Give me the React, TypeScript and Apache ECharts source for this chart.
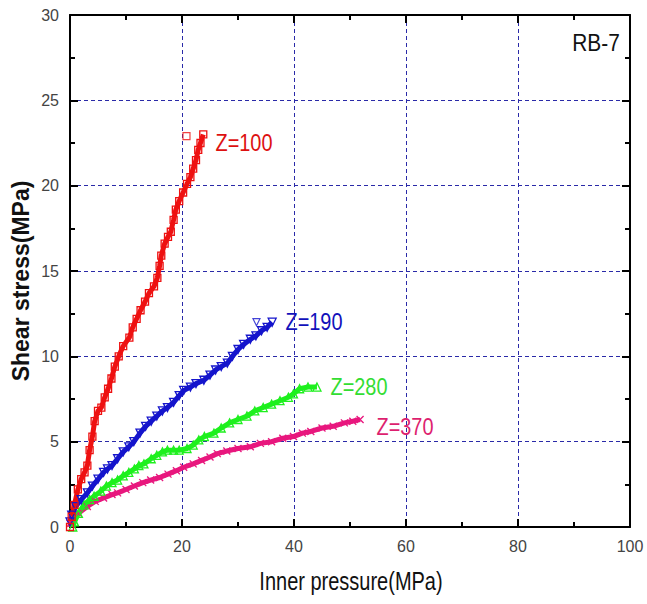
import React, { useEffect, useRef } from "react";
import * as echarts from "echarts";

// Inner pressure (MPa), Shear stress (MPa)
const z100X = [0, 0.3, 0.8, 1.4, 2.0, 2.6, 3.1, 3.5, 4.0, 4.4, 5.0, 5.6, 6.2, 6.8, 7.4, 8.0, 8.7, 9.5, 10.6, 11.2, 11.9, 12.6, 13.4, 14.1, 15.0, 15.6, 16.0, 16.3, 16.9, 17.5, 18.0, 18.5, 18.9, 19.5, 20.2, 20.9, 21.5, 22.0, 22.5, 22.9, 23.3, 23.8];
const z100Y = [0, 0.6, 1.3, 2.2, 2.8, 3.2, 3.6, 4.5, 5.3, 6.2, 6.8, 7.0, 7.6, 8.1, 8.7, 9.4, 10.0, 10.6, 11.1, 11.7, 12.2, 12.7, 13.2, 13.7, 14.1, 14.6, 15.3, 15.9, 16.6, 17.0, 17.3, 18.0, 18.6, 19.1, 19.6, 20.1, 20.5, 21.0, 21.5, 22.1, 22.5, 23.0];
const z100OutX = [20.8];
const z100OutY = [22.9];

const z190X = [0, 0.3, 1.0, 2.0, 3.1, 4.0, 5.0, 6.0, 6.7, 7.5, 8.5, 9.5, 10.5, 11.4, 12.5, 13.5, 14.5, 15.5, 16.5, 17.4, 18.5, 19.5, 20.3, 21.5, 22.5, 23.9, 25.0, 26.0, 27.0, 28.1, 29.0, 30.0, 31.0, 32.2, 33.2, 34.2, 35.2, 36.1];
const z190Y = [0.3, 0.7, 1.2, 1.6, 2.0, 2.4, 2.8, 3.2, 3.4, 3.6, 4.0, 4.4, 4.7, 5.0, 5.5, 5.9, 6.2, 6.5, 6.8, 7.0, 7.3, 7.7, 8.0, 8.2, 8.4, 8.6, 8.9, 9.2, 9.4, 9.6, 10.0, 10.4, 10.7, 11.0, 11.2, 11.5, 11.7, 12.0];
const z190OutX = [33.3];
const z190OutY = [12.0];

const z280X = [0.5, 0.8, 1.5, 2.5, 3.5, 4.3, 5.5, 6.5, 7.5, 8.5, 9.5, 10.5, 11.5, 12.3, 13.2, 14.5, 15.5, 16.5, 17.4, 18.5, 19.5, 20.9, 22.0, 23.0, 24.0, 25.7, 27.0, 28.5, 30.0, 31.6, 33.0, 34.5, 36.0, 37.5, 39.0, 39.9, 41.0, 42.5, 44.1];
const z280Y = [0, 0.3, 0.8, 1.3, 1.6, 1.8, 2.1, 2.4, 2.6, 2.75, 3.0, 3.2, 3.4, 3.6, 3.7, 4.0, 4.2, 4.4, 4.5, 4.5, 4.5, 4.6, 4.8, 5.1, 5.3, 5.5, 5.8, 6.1, 6.3, 6.5, 6.8, 7.0, 7.2, 7.4, 7.6, 7.8, 8.1, 8.2, 8.2];

const z370X = [0, 0.5, 1.5, 3.1, 4.5, 6.0, 7.5, 8.5, 10.0, 11.5, 13.0, 14.4, 16.0, 17.5, 19.0, 20.3, 22.0, 23.5, 25.0, 26.3, 28.0, 30.0, 32.2, 34.0, 36.0, 38.0, 39.9, 41.5, 43.0, 45.0, 47.0, 49.0, 50.5, 51.8];
const z370Y = [0.2, 0.5, 0.8, 1.2, 1.5, 1.7, 1.9, 2.0, 2.2, 2.4, 2.6, 2.75, 2.9, 3.1, 3.3, 3.5, 3.7, 3.9, 4.1, 4.3, 4.45, 4.6, 4.7, 4.9, 5.0, 5.2, 5.3, 5.5, 5.6, 5.8, 5.9, 6.1, 6.2, 6.3];

const seriesNames = ["Z=100", "Z=190", "Z=280", "Z=370"];
const xTicks = [0, 20, 40, 60, 80, 100];
const yTicks = [0, 5, 10, 15, 20, 25, 30];

const zip = (xs: number[], ys: number[]) => xs.map((x, i) => [x, ys[i]]);

const FONT = "'Liberation Sans', Arial, sans-serif";

export default function App() {
  const ref = useRef<HTMLDivElement>(null);
  useEffect(() => {
    if (!ref.current) return;
    const chart = echarts.init(ref.current, null, { renderer: "svg" });
    const grid = { left: 70, right: 17, top: 15, bottom: 77 };
    const axisCommon = {
      type: "value" as const,
      axisLine: { show: true, onZero: false, lineStyle: { color: "#000", width: 2 } },
      axisTick: { show: true, inside: true, length: 8, lineStyle: { color: "#000", width: 2 } },
      minorTick: { show: true, splitNumber: 2, length: 5, lineStyle: { color: "#000", width: 2 } },
    };
    const xMax = xTicks[xTicks.length - 1];
    const yMax = yTicks[yTicks.length - 1];
    const xInt = xTicks[1] - xTicks[0];
    const yInt = yTicks[1] - yTicks[0];
    const splitLine = { show: true, lineStyle: { color: "#2a2aa8", width: 1, type: [4, 3] } };
    const labelStyle = { color: "#444", fontSize: 16, fontFamily: FONT };

    const lineSeries = (name: string, data: number[][], color: string, symbol: string, rotate = 0, size = 7) => ({
      name,
      type: "line",
      data,
      showSymbol: true,
      symbol,
      symbolSize: size,
      symbolRotate: rotate,
      lineStyle: { color, width: 5 },
      itemStyle: { color: "rgba(255,255,255,0)", borderColor: color, borderWidth: 1.3 },
      z: 3,
    });
    const outSeries = (data: number[][], color: string, symbol: string, rotate = 0) => ({
      type: "scatter",
      data,
      symbol,
      symbolSize: 7,
      symbolRotate: rotate,
      itemStyle: { color: "rgba(255,255,255,0)", borderColor: color, borderWidth: 1.2 },
      z: 3,
    });

    const label = (text: string, x: number, y: number, fill: string, size: number, sx: number) => ({
      type: "text",
      x,
      y,
      scaleX: sx,
      style: { text, fill, font: `${size}px ${FONT}`, align: "center", verticalAlign: "middle" },
    });

    chart.setOption({
      animation: false,
      backgroundColor: "#fff",
      grid,
      xAxis: [
        {
          ...axisCommon,
          position: "bottom",
          min: 0,
          max: xMax,
          interval: xInt,
          splitLine,
          axisLabel: { ...labelStyle, margin: 11 },
        },
        {
          ...axisCommon,
          position: "top",
          min: 0,
          max: xMax,
          interval: xInt,
          splitLine: { show: false },
          axisLabel: { show: false },
        },
      ],
      yAxis: [
        {
          ...axisCommon,
          position: "left",
          min: 0,
          max: yMax,
          interval: yInt,
          splitLine,
          axisLabel: { ...labelStyle, margin: 11 },
        },
        {
          ...axisCommon,
          position: "right",
          min: 0,
          max: yMax,
          interval: yInt,
          splitLine: { show: false },
          axisLabel: { show: false },
        },
      ],
      series: [
        lineSeries(seriesNames[3], zip(z370X, z370Y), "#e8177e", "path://M0,0L10,10M10,0L0,10", 0, 7),
        lineSeries(seriesNames[2], zip(z280X, z280Y), "#1ef01e", "triangle", 0, 8),
        lineSeries(seriesNames[1], zip(z190X, z190Y), "#1515cc", "triangle", 180, 8),
        lineSeries(seriesNames[0], zip(z100X, z100Y), "#ee1111", "rect", 0, 7),
        outSeries(zip(z100OutX, z100OutY), "#ee1111", "rect"),
        outSeries(zip(z190OutX, z190OutY), "#1515cc", "triangle", 180),
      ],
      graphic: [
        label(seriesNames[0], 244, 143, "#dd1111", 24, 0.83),
        label(seriesNames[1], 314, 322, "#1111bb", 24, 0.83),
        label(seriesNames[2], 359, 387, "#33dd33", 24, 0.83),
        label(seriesNames[3], 405, 427, "#dd1f6f", 24, 0.83),
        label("RB-7", 596, 43, "#111", 24, 0.87),
        label("Inner pressure(MPa)", 351, 582, "#111", 25, 0.8),
        { type: "text", x: 21, y: 281, rotation: Math.PI / 2, style: { text: "Shear stress(MPa)", fill: "#111", font: `bold 23px ${FONT}`, align: "center", verticalAlign: "middle" } },
      ],
    });
    return () => chart.dispose();
  }, []);
  return <div ref={ref} style={{ position: "fixed", left: 0, top: 0, width: 647, height: 604 }} />;
}
